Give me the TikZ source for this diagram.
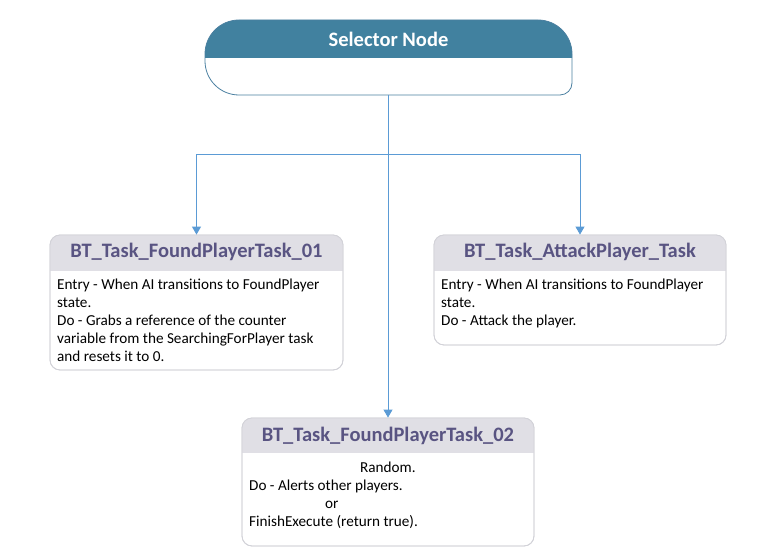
\documentclass[tikz,border=0pt]{standalone}
\usepackage{fontspec}
\setmainfont{Carlito}
\usetikzlibrary{arrows.meta}

\definecolor{selblue}{HTML}{41819F}
\definecolor{selrim}{HTML}{4A7FA0}
\definecolor{linkblue}{HTML}{5B9BD5}
\definecolor{headgray}{HTML}{E0DFE5}
\definecolor{rimgray}{HTML}{D2D2D8}
\definecolor{titlepurple}{HTML}{595482}

\tikzset{
  link/.style={linkblue, line width=0.9pt, -{Triangle[width=9pt,length=8pt]}},
  taskbox/.style={draw=rimgray, line width=0.8pt, rounded corners=10pt, inner sep=0pt},
  tasktitle/.style={text=titlepurple, font=\fontsize{20.5}{24}\selectfont\bfseries},
  taskbody/.style={anchor=north west, align=left, inner sep=0pt,
    font=\fontsize{15.2}{18}\selectfont}
}

\begin{document}
\begin{tikzpicture}[x=1pt, y=1pt]
    \useasboundingbox (0, 0) rectangle (763, 554);

    % selector node
    \fill[selblue] (205, 496) -- (205, 500) arc[start angle=180, end angle=90, radius=34]
        -- (538, 534) arc[start angle=90, end angle=0, radius=34] -- (572, 496) -- cycle;
    \draw[selrim, line width=0.8pt] (205, 496) -- (205, 493) arc[start angle=180, end angle=270, radius=34]
        -- (560, 459) arc[start angle=270, end angle=360, radius=12] -- (572, 500)
        arc[start angle=0, end angle=90, radius=34] -- (239, 534)
        arc[start angle=90, end angle=180, radius=34] -- cycle;
    \node[text=white, font=\fontsize{20.5}{24}\selectfont\bfseries] (sel) at (388.5, 515) {Selector Node};
    \coordinate (selbot) at (388, 459);
    \coordinate (split) at (388, 400);

    % task boxes
    \node[taskbox, minimum width=293pt, minimum height=135pt] (t1) at (196.5, 251.5) {};
    \node[taskbox, minimum width=292pt, minimum height=110pt] (t2) at (580, 264) {};
    \node[taskbox, minimum width=292pt, minimum height=128pt] (t3) at (388, 72) {};
    \begin{scope}
        \clip[rounded corners=10pt] (50, 184) rectangle (343, 319);
        \fill[headgray] (50, 283) rectangle (343, 319);
    \end{scope}
    \begin{scope}
        \clip[rounded corners=10pt] (434, 209) rectangle (726, 319);
        \fill[headgray] (434, 283) rectangle (726, 319);
    \end{scope}
    \begin{scope}
        \clip[rounded corners=10pt] (242, 8) rectangle (534, 136);
        \fill[headgray] (242, 101) rectangle (534, 136);
    \end{scope}
    \node[taskbox] at (t1) [minimum width=293pt, minimum height=135pt] {};
    \node[taskbox] at (t2) [minimum width=292pt, minimum height=110pt] {};
    \node[taskbox] at (t3) [minimum width=292pt, minimum height=128pt] {};

    \node[tasktitle] (t1title) at (196.5, 302) {BT\_Task\_FoundPlayerTask\_01};
    \node[tasktitle] (t2title) at (580, 302) {BT\_Task\_AttackPlayer\_Task};
    \node[tasktitle] (t3title) at (388, 118) {BT\_Task\_FoundPlayerTask\_02};

    \node[taskbody] (t1text) at (57, 275) {Entry - When AI transitions to FoundPlayer\\state.\\Do - Grabs a reference of the counter\\variable from the SearchingForPlayer task\\and resets it to 0.};
    \node[taskbody] (t2text) at (441, 275) {Entry - When AI transitions to FoundPlayer\\state.\\Do - Attack the player.};
    \node[taskbody] (t3text) at (249, 92.5) {\hspace*{111pt}Random.\\Do - Alerts other players.\\\hspace*{76pt}or\\FinishExecute (return true).};

    % connectors
    \draw[linkblue, line width=0.9pt] (selbot) -- (split);
    \draw[link] (split) -| (t1.north);
    \draw[link] (split) -| (t2.north);
    \draw[link] (split) -- (t3.north);
\end{tikzpicture}
\end{document}
